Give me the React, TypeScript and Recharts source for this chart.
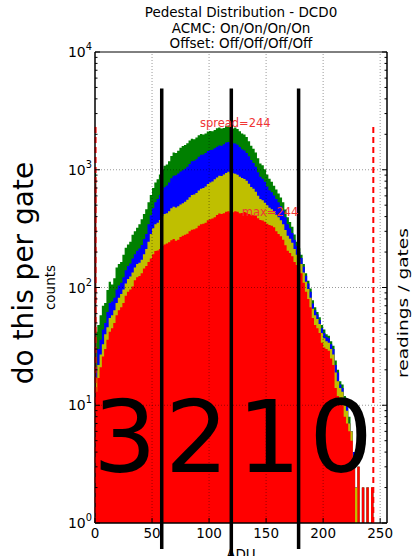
import React from 'react'
import {
  ComposedChart,
  Area,
  XAxis,
  YAxis,
  ReferenceLine,
  ReferenceDot,
  ReferenceArea,
} from 'recharts'

// ADU bins (left edge of each step)
const adu = [
  0, 1, 2, 4, 6, 8, 10, 12, 14, 16, 18,
  20, 22, 24, 26, 28, 30, 32, 34, 36, 38,
  40, 42, 44, 46, 48, 50, 52, 54, 56, 58,
  60, 62, 64, 66, 68, 70, 72, 74, 76, 78,
  80, 82, 84, 86, 88, 90, 92, 94, 96, 98,
  100, 102, 104, 106, 108, 110, 112, 114, 116, 118,
  120, 122, 124, 126, 128, 130, 132, 134, 136, 138,
  140, 142, 144, 146, 148, 150, 152, 154, 156, 158,
  160, 162, 164, 166, 168, 170, 172, 174, 176, 178,
  180, 182, 184, 186, 188, 190, 192, 194, 196, 198,
  200, 202, 204, 206, 208, 210, 212, 214, 216, 218,
  220, 222, 224, 226, 228, 230, 232, 234, 236, 238,
  240, 242, 244, 246, 248, 250, 252, 254, 256,
]

// cumulative counts, drawn back to front: green is the total
const green = [
  940, 42, 48, 58, 70, 74, 95, 112, 106, 120, 148,
  158, 165, 190, 218, 232, 245, 280, 300, 322, 345,
  380, 420, 462, 530, 610, 700, 780, 830, 910, 1010,
  1080, 1110, 1180, 1310, 1400, 1390, 1450, 1540, 1590, 1620,
  1680, 1770, 1830, 1820, 1880, 1960, 2010, 1990, 2030, 2110,
  2130, 2120, 2180, 2250, 2280, 2240, 2260, 2340, 2380, 2290,
  2240, 2290, 2220, 2120, 2030, 1990, 1900, 1750, 1600, 1510,
  1400, 1250, 1130, 1090, 1010, 910, 840, 790, 730, 680,
  630, 580, 530, 460, 395, 360, 328, 282, 245, 215,
  190, 158, 132, 114, 98, 78, 68, 62, 56, 48,
  44, 40, 39, 35, 32, 24, 20, 16, 15, 12,
  10, 8, 6, 4, 2, 3, 1, 2, 1, 2,
  1, 2, 1, 1, 1, 1, 1, 1, 1,
]
const blue = [
  820, 21, 30, 36, 44, 50, 62, 74, 76, 82, 96,
  104, 110, 122, 140, 152, 160, 176, 192, 205, 214,
  230, 258, 285, 345, 410, 470, 530, 565, 610, 665,
  710, 735, 780, 845, 890, 900, 930, 965, 990, 1020,
  1060, 1120, 1180, 1190, 1230, 1290, 1340, 1350, 1390, 1440,
  1470, 1480, 1520, 1570, 1610, 1600, 1650, 1700, 1720, 1660,
  1680, 1670, 1630, 1560, 1490, 1460, 1390, 1300, 1210, 1140,
  1060, 950, 870, 840, 790, 720, 670, 645, 605, 565,
  530, 490, 450, 395, 345, 318, 290, 255, 225, 200,
  178, 150, 126, 108, 92, 73, 64, 59, 53, 45,
  41, 38, 37, 33, 30, 22, 19, 15, 14, 11,
  10, 7, 6, 4, 2, 3, 1, 2, 1, 2,
  1, 2, 1, 1, 1, 1, 1, 1, 1,
]
const yellow = [
  790, 17, 22, 27, 33, 40, 46, 55, 58, 64, 74,
  82, 88, 96, 108, 118, 124, 134, 148, 158, 162,
  172, 192, 212, 245, 285, 318, 345, 355, 375, 402,
  420, 428, 445, 470, 485, 478, 490, 508, 520, 535,
  555, 585, 610, 615, 635, 665, 690, 700, 720, 755,
  780, 795, 830, 860, 890, 885, 910, 940, 960, 930,
  935, 925, 905, 870, 850, 835, 805, 760, 715, 690,
  650, 600, 565, 550, 525, 500, 475, 462, 445, 415,
  395, 372, 345, 308, 275, 260, 240, 212, 190, 175,
  158, 134, 112, 97, 82, 66, 58, 54, 49, 41,
  37, 35, 34, 30, 27, 19, 16, 14, 13, 10,
  9, 7, 6, 3, 2, 3, 1, 2, 1, 2,
  1, 2, 1, 1, 1, 1, 1, 1, 1,
]
const red = [
  760, 13, 17, 21, 26, 30, 36, 42, 45, 50, 58,
  64, 68, 74, 85, 92, 96, 102, 115, 122, 125,
  132, 145, 152, 165, 176, 192, 204, 206, 212, 225,
  232, 236, 242, 252, 258, 250, 255, 268, 275, 280,
  286, 300, 310, 312, 318, 335, 345, 348, 355, 372,
  380, 385, 395, 412, 425, 420, 428, 440, 445, 432,
  436, 445, 440, 428, 430, 438, 432, 420, 415, 410,
  405, 388, 375, 370, 362, 348, 340, 335, 325, 300,
  285, 272, 255, 228, 205, 196, 184, 165, 155, 142,
  132, 110, 92, 80, 68, 55, 48, 45, 41, 34,
  31, 30, 29, 25, 22, 14, 12, 11, 10, 8,
  7, 6, 5, 3, 1, 3, 1, 2, 1, 2,
  1, 2, 1, 1, 1, 1, 1, 1, 1,
]

const xTicks = [0, 50, 100, 150, 200, 250]
const yDecades = [1, 10, 100, 1000]
const yTicks = [...yDecades.flatMap((d) => [1, 2, 3, 4, 5, 6, 7, 8, 9].map((m) => m * d)), 10000]
const gridX = [50, 100, 150, 200, 250]
const gridY = [10, 100, 1000]

// thick black gate separators and red dashed min/max markers
const gateLines = [58.5, 119.5, 178.5]
const gateTop = 4900
const gateBottoms = [0.6, 0.52, 0.6]
const markerLines = [0.5, 244]
const markerTop = 2400

const data = adu.map((a, i) => ({ adu: a, green: green[i], blue: blue[i], yellow: yellow[i], red: red[i] }))

const FONT = '"DejaVu Sans", sans-serif'
const Y_MARGIN = 3
const X_MARGIN = 5

function isMajor(v: number) {
  const e = Math.round(Math.log10(v))
  return Math.abs(Math.pow(10, e) - v) < 1e-6
}

function LeftTick({ x, y, payload }: any) {
  const v = payload.value
  const major = isMajor(v)
  const ax = x + Y_MARGIN
  return (
    <g>
      <line x1={ax} x2={ax + (major ? 5 : 2.5)} y1={y} y2={y} stroke="#000" strokeWidth={1} />
      {major && (
        <text x={x} y={y + 5} textAnchor="end" fontSize={14} fill="#000" fontFamily={FONT}>
          10
          <tspan dy={-7} fontSize={9.8}>
            {Math.round(Math.log10(v))}
          </tspan>
        </text>
      )}
    </g>
  )
}

function RightTick({ x, y, payload }: any) {
  const major = isMajor(payload.value)
  return <line x1={x} x2={x - (major ? 5 : 2.5)} y1={y} y2={y} stroke="#000" strokeWidth={1} />
}

function BottomTick({ x, y, payload }: any) {
  const ay = y - X_MARGIN
  return (
    <g>
      <line x1={x} x2={x} y1={ay} y2={ay - 5} stroke="#000" strokeWidth={1} />
      <text x={x} y={y} dy="0.73em" textAnchor="middle" fontSize={13.5} fill="#000" fontFamily={FONT}>
        {payload.value}
      </text>
    </g>
  )
}

export default function App() {
  return (
    <div style={{ position: 'absolute', left: 0, top: 0, width: 412, height: 556, background: '#fff', fontFamily: FONT }}>
      <ComposedChart width={412} height={556} data={data} margin={{ top: 52, right: 0, left: 5, bottom: 3 }}>
        <XAxis
          dataKey="adu"
          type="number"
          domain={[0, 256]}
          ticks={xTicks}
          allowDataOverflow
          tickSize={0}
          tickMargin={X_MARGIN}
          tickLine={false}
          tick={(p: any) => <BottomTick {...p} />}
          axisLine={{ stroke: '#000' }}
          height={30}
        />
        <YAxis
          type="number"
          scale="log"
          domain={[1, 10000]}
          ticks={yTicks}
          allowDataOverflow
          interval={0}
          tickSize={0}
          tickMargin={Y_MARGIN}
          tickLine={false}
          tick={(p: any) => <LeftTick {...p} />}
          axisLine={{ stroke: '#000' }}
          width={90}
          label={{ value: 'counts', angle: -90, position: 'center', fontSize: 13.5, fill: '#000' }}
        />
        <YAxis
          yAxisId="right"
          orientation="right"
          type="number"
          scale="log"
          domain={[1, 10000]}
          ticks={yTicks}
          allowDataOverflow
          interval={0}
          tickSize={0}
          tickMargin={0}
          tickLine={false}
          tick={(p: any) => <RightTick {...p} />}
          axisLine={{ stroke: '#000' }}
          width={25}
        />

        <Area dataKey="green" type="stepAfter" fill="#008000" fillOpacity={1} stroke="none" baseValue={1} isAnimationActive={false} />
        <Area dataKey="blue" type="stepAfter" fill="#0000ff" fillOpacity={1} stroke="none" baseValue={1} isAnimationActive={false} />
        <Area dataKey="yellow" type="stepAfter" fill="#bfbf00" fillOpacity={1} stroke="none" baseValue={1} isAnimationActive={false} />
        <Area dataKey="red" type="stepAfter" fill="#ff0000" fillOpacity={1} stroke="none" baseValue={1} isAnimationActive={false} />

        {/* dotted grid above the fills */}
        {gridX.map((v) => (
          <ReferenceLine key={`gx${v}`} x={v} stroke="#000" strokeOpacity={0.4} strokeDasharray="1 2" />
        ))}
        {gridY.map((v) => (
          <ReferenceLine key={`gy${v}`} y={v} stroke="#000" strokeOpacity={0.4} strokeDasharray="1 2" />
        ))}

        <ReferenceArea x1={0} x2={256} y1={1} y2={10000} fill="none" stroke="#000" strokeWidth={1} />

        {markerLines.map((v) => (
          <ReferenceLine
            key={`m${v}`}
            segment={[{ x: v, y: 1 }, { x: v, y: markerTop }]}
            stroke="#ff0000"
            strokeWidth={2}
            strokeDasharray="6 4"
            ifOverflow="visible"
          />
        ))}

        <ReferenceDot x={123} y={2500} r={0} fill="none" stroke="none"
          label={{ value: 'spread=244', position: 'center', fill: '#f03535', fontSize: 11.5 }} />
        <ReferenceDot x={153.5} y={438} r={0} fill="none" stroke="none"
          label={{ value: 'max=244', position: 'center', fill: '#f03535', fontSize: 11.5 }} />

        {gateLines.map((v, i) => (
          <ReferenceLine
            key={`g${v}`}
            segment={[{ x: v, y: gateBottoms[i] }, { x: v, y: gateTop }]}
            stroke="#000"
            strokeWidth={3.5}
            ifOverflow="visible"
          />
        ))}
      </ComposedChart>

      <svg width={412} height={556} style={{ position: 'absolute', left: 0, top: 0, pointerEvents: 'none' }}>
        <g fontFamily={FONT} fill="#000" textAnchor="middle">
          <text x={241} y={17} fontSize={13.5}>Pedestal Distribution - DCD0</text>
          <text x={241} y={32.5} fontSize={13.5}>ACMC: On/On/On/On</text>
          <text x={241} y={47.5} fontSize={13.5}>Offset: Off/Off/Off/Off</text>
          <text x={241} y={559} fontSize={13.5}>ADU</text>
          <text x={33} y={273} fontSize={28} transform="rotate(-90, 33, 273)">do this per gate</text>
          <text x={408} y={303} fontSize={14} textLength={150} lengthAdjust="spacingAndGlyphs" transform="rotate(-90, 408, 303)">readings / gates</text>
          <text x={93} y={472} fontSize={100} textAnchor="start" letterSpacing={8.5}>3210</text>
        </g>
      </svg>
    </div>
  )
}
